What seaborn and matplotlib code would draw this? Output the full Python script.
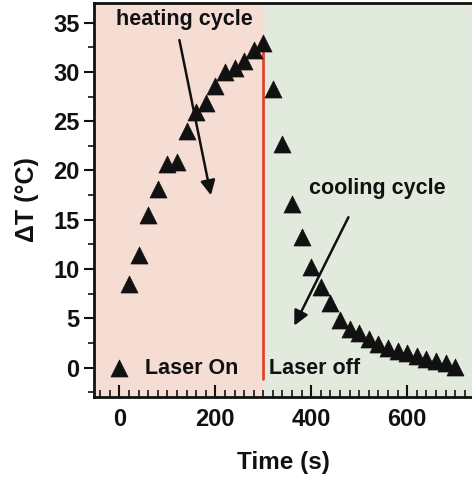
import numpy as np
import pandas as pd
import matplotlib.pyplot as plt
import seaborn as sns
from matplotlib.ticker import MultipleLocator

# ---- data ----
heat_time = [0, 20, 40, 60, 80, 100, 120, 140, 160, 180, 200, 220, 240, 260, 280, 300]
heat_dT = [0.0, 8.5, 11.4, 15.5, 18.1, 20.7, 20.9, 24.0, 25.9, 26.8, 28.6, 30.0, 30.4, 31.1, 32.2, 32.9]

cool_time = [320, 340, 360, 380, 400, 420, 440, 460, 480, 500, 520, 540, 560,
             580, 600, 620, 640, 660, 680, 700]
cool_dT = [28.3, 22.7, 16.6, 13.2, 10.2, 8.2, 6.5, 4.8, 3.9, 3.5, 2.9, 2.4, 2.0,
           1.7, 1.45, 1.2, 0.9, 0.7, 0.45, 0.1]

laser_switch = 300

df = pd.DataFrame({"Time": heat_time + cool_time, "dT": heat_dT + cool_dT})

# ---- style ----
sns.set_style("ticks")
plt.rcParams["font.family"] = ["Liberation Sans", "DejaVu Sans"]
plt.rcParams["font.weight"] = "bold"
plt.rcParams["text.color"] = "#111111"
plt.rcParams["axes.labelcolor"] = "#111111"
plt.rcParams["xtick.color"] = "#111111"
plt.rcParams["ytick.color"] = "#111111"

fig = plt.figure(figsize=(4.72, 4.79), dpi=100)
ax = fig.add_axes([0.199, 0.171, 0.801, 0.823])

xmin, xmax = -53, 735
ax.set_xlim(xmin, xmax)
ax.set_ylim(-3, 37)

# shaded laser on / off regions
ax.axvspan(xmin, laser_switch, color="#f6ddd4", zorder=0, lw=0)
ax.axvspan(laser_switch, xmax, color="#e2eadd", zorder=0, lw=0)
ax.plot([laser_switch, laser_switch], [-1.2, 33], color="#e0452c", lw=2, zorder=1)

sns.scatterplot(data=df, x="Time", y="dT", marker="^", s=150, color="#111111",
                edgecolor="#111111", linewidth=0.5, ax=ax, zorder=3)

# annotations
fs = 15.5
ax.text(136, 35.3, "heating cycle", ha="center", va="center", fontsize=fs, fontweight="bold")
ax.annotate("", xy=(192, 17.2), xytext=(124, 33.5),
            arrowprops=dict(arrowstyle="-|>", color="#111111", lw=1.8, mutation_scale=22))
ax.text(538, 18.2, "cooling cycle", ha="center", va="center", fontsize=fs, fontweight="bold")
ax.annotate("", xy=(362, 4.0), xytext=(480, 15.5),
            arrowprops=dict(arrowstyle="-|>", color="#111111", lw=1.8, mutation_scale=22))
ax.text(53, -0.1, "Laser On", ha="left", va="center", fontsize=fs, fontweight="bold")
ax.text(311, -0.1, "Laser off", ha="left", va="center", fontsize=fs, fontweight="bold")

# axes and ticks
ax.set_xlabel("Time (s)", fontsize=17.5, fontweight="bold", labelpad=14)
ax.set_ylabel("\u0394T (\u00b0C)", fontsize=18, fontweight="bold", labelpad=10)
ax.xaxis.set_major_locator(MultipleLocator(200))
ax.xaxis.set_minor_locator(MultipleLocator(20))
ax.yaxis.set_major_locator(MultipleLocator(5))
ax.yaxis.set_minor_locator(MultipleLocator(2.5))
ax.tick_params(axis="x", which="major", direction="in", length=9, width=1.5, labelsize=17, pad=8)
ax.tick_params(axis="x", which="minor", direction="in", length=5, width=1.2)
ax.tick_params(axis="y", which="major", direction="out", length=7, width=1.5, labelsize=17)
ax.tick_params(axis="y", which="minor", direction="out", length=4, width=1.2)
for lab in ax.get_xticklabels() + ax.get_yticklabels():
    lab.set_fontweight("bold")

for side in ["left", "bottom", "top"]:
    ax.spines[side].set_linewidth(2)
    ax.spines[side].set_color("#111111")
ax.spines["right"].set_visible(False)

fig.savefig("out.png", dpi=100)
